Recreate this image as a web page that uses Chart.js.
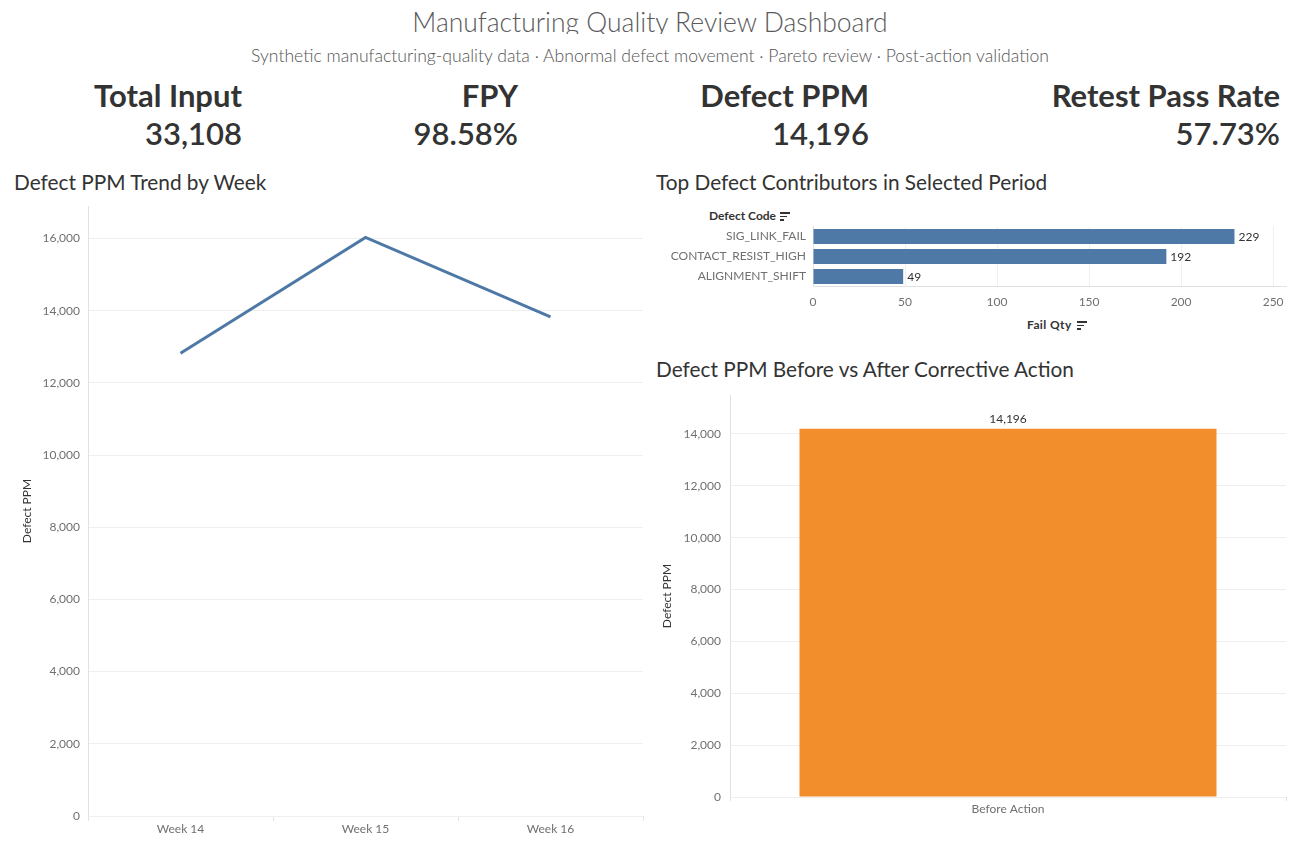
<!DOCTYPE html>
<html><head><meta charset="utf-8">
<script src="https://cdn.jsdelivr.net/npm/chart.js@4.4.1/dist/chart.umd.min.js"></script>
<style>
html,body{margin:0;padding:0;background:#fff;}
body{width:1300px;height:847px;position:relative;overflow:hidden;font-family:Lato,"Open Sans",sans-serif;}
.abs{position:absolute;white-space:nowrap;line-height:1.2;}
#title{left:0;width:1300px;top:7px;text-align:center;font-size:26.5px;font-weight:300;color:#5a5a5a;height:27px;overflow:hidden;}
#subtitle{left:0;width:1300px;top:45px;text-align:center;font-size:17.6px;font-weight:300;color:#555;}
.kpi{font-size:31px;font-weight:700;color:#333;text-align:right;}
.ctitle{font-size:20.8px;font-weight:400;color:#333;top:170px;}
.hdr{font-size:12px;font-weight:700;color:#333;}
.sorticon{position:absolute;width:10px;height:9px;}
.sorticon i{position:absolute;left:0;height:1.5px;background:#333;}
canvas{position:absolute;}
</style></head>
<body>
<div id="title" class="abs">Manufacturing Quality Review Dashboard</div>
<div id="subtitle" class="abs">Synthetic manufacturing-quality data · Abnormal defect movement · Pareto review · Post-action validation</div>
<div id="kpis"></div>
<div class="abs ctitle" style="left:14px;top:170px;">Defect PPM Trend by Week</div>
<div class="abs ctitle" style="left:656px;top:170px;">Top Defect Contributors in Selected Period</div>
<div class="abs ctitle" style="left:656px;top:357px;">Defect PPM Before vs After Corrective Action</div>
<div class="abs hdr" style="left:709px;top:209px;">Defect Code</div>
<div class="sorticon" style="left:780px;top:212px;"><i style="top:0;width:10px"></i><i style="top:3.5px;width:7px"></i><i style="top:7px;width:4px"></i></div>
<div class="abs hdr" style="left:1027px;top:318px;letter-spacing:0.4px;">Fail Qty</div>
<div class="sorticon" style="left:1077px;top:321px;"><i style="top:0;width:10px"></i><i style="top:3.5px;width:7px"></i><i style="top:7px;width:4px"></i></div>
<canvas id="c1" width="650" height="650" style="left:0;top:195px;"></canvas>
<canvas id="c2" width="650" height="140" style="left:650px;top:200px;"></canvas>
<canvas id="c3" width="650" height="460" style="left:650px;top:385px;"></canvas>
<script>
// ---- data ----
const kpiLabels = ['Total Input', 'FPY', 'Defect PPM', 'Retest Pass Rate'];
const kpiValues = ['33,108', '98.58%', '14,196', '57.73%'];
const weekLabels = ['Week 14', 'Week 15', 'Week 16'];
const weeklyDefectPPM = [12820, 16030, 13830];
const trendTicks = [0, 2000, 4000, 6000, 8000, 10000, 12000, 14000, 16000];
const defectCodes = ['SIG_LINK_FAIL', 'CONTACT_RESIST_HIGH', 'ALIGNMENT_SHIFT'];
const failQty = [229, 192, 49];
const failQtyTicks = [0, 50, 100, 150, 200, 250];
const actionPhases = ['Before Action'];
const phaseDefectPPM = [14196];
const phaseTicks = [0, 2000, 4000, 6000, 8000, 10000, 12000, 14000];

// ---- KPI tiles ----
const kpiRight = [242, 518, 869, 1280];
const kpiBox = document.getElementById('kpis');
kpiLabels.forEach((lab, i) => {
  const a = document.createElement('div');
  a.className = 'abs kpi'; a.textContent = lab;
  a.style.right = (1300 - kpiRight[i]) + 'px'; a.style.top = '77px';
  const b = document.createElement('div');
  b.className = 'abs kpi'; b.style.fontWeight = '600'; b.textContent = kpiValues[i];
  b.style.right = (1300 - kpiRight[i]) + 'px'; b.style.top = '115px';
  kpiBox.appendChild(a); kpiBox.appendChild(b);
});

const FONT = 'Lato, "Open Sans", sans-serif';
const TICK = '#707070';
const GRID = '#efefef';
const AXIS = '#e2e2e2';
const fmt = v => Number(v).toLocaleString('en-US');
const useTicks = arr => s => { s.ticks = arr.map(v => ({ value: v })); };
const fixW = w => s => { s.width = w; s.paddingTop = 0; s.paddingBottom = 0; };
const fixH = h => s => { s.height = h; s.paddingLeft = 0; s.paddingRight = 0; };

const valueLabels = {
  id: 'valueLabels',
  afterDatasetsDraw(chart, args, opts) {
    if (!opts || !opts.show) return;
    const ctx = chart.ctx;
    chart.data.datasets.forEach((ds, i) => {
      chart.getDatasetMeta(i).data.forEach((el, j) => {
        const txt = fmt(ds.data[j]);
        ctx.save();
        ctx.font = '12px ' + FONT;
        ctx.fillStyle = '#333';
        if (opts.horizontal) {
          ctx.textAlign = 'left'; ctx.textBaseline = 'middle';
          ctx.fillText(txt, el.x + 4, el.y + 1);
        } else {
          ctx.textAlign = 'center'; ctx.textBaseline = 'bottom';
          ctx.fillText(txt, el.x, el.y - 4);
        }
        ctx.restore();
      });
    });
  }
};
Chart.register(valueLabels);

// ---- Chart 1: line ----
new Chart(document.getElementById('c1'), {
  type: 'line',
  data: { labels: weekLabels, datasets: [{ data: weeklyDefectPPM, borderColor: '#4e79a7', borderWidth: 3, pointRadius: 0, tension: 0, fill: false }] },
  options: {
    responsive: false, animation: false,
    layout: { padding: { top: 11, right: 7, left: 0, bottom: 0 } },
    plugins: { legend: { display: false }, tooltip: { enabled: false } },
    scales: {
      x: {
        offset: true,
        grid: { offset: true, drawOnChartArea: false, drawTicks: true, tickLength: 5, color: AXIS },
        border: { display: false },
        ticks: { color: TICK, font: { family: FONT, size: 12 }, padding: 1 },
        afterFit: fixH(29)
      },
      y: {
        min: 0, max: 16900,
        afterBuildTicks: useTicks(trendTicks),
        ticks: { color: TICK, font: { family: FONT, size: 12 }, padding: 8, callback: v => fmt(v) },
        grid: { color: GRID, drawTicks: false },
        border: { display: true, color: AXIS },
        title: { display: true, text: 'Defect PPM', color: '#333', font: { family: FONT, size: 12 }, padding: { top: 20, bottom: 0 } },
        afterFit: fixW(88)
      }
    }
  }
});

// ---- Chart 2: horizontal bar ----
new Chart(document.getElementById('c2'), {
  type: 'bar',
  data: { labels: defectCodes, datasets: [{ data: failQty, backgroundColor: '#4e79a7', categoryPercentage: 1, barPercentage: 0.75 }] },
  options: {
    indexAxis: 'y', responsive: false, animation: false,
    layout: { padding: { top: 26.5, right: 14, left: 0, bottom: 0 } },
    plugins: { legend: { display: false }, tooltip: { enabled: false }, valueLabels: { show: true, horizontal: true } },
    scales: {
      x: {
        min: 0, max: 257,
        afterBuildTicks: useTicks(failQtyTicks),
        ticks: { color: TICK, font: { family: FONT, size: 12 }, padding: 8 },
        grid: { color: GRID, drawTicks: false },
        border: { display: true, color: AXIS },
        afterFit: fixH(53.5)
      },
      y: {
        grid: { display: false, drawTicks: false },
        border: { display: true, color: AXIS },
        ticks: { color: TICK, font: { family: FONT, size: 12 }, padding: 7 },
        afterFit: fixW(163)
      }
    }
  }
});

// ---- Chart 3: vertical bar ----
new Chart(document.getElementById('c3'), {
  type: 'bar',
  data: { labels: actionPhases, datasets: [{ data: phaseDefectPPM, backgroundColor: '#f28e2b', categoryPercentage: 1, barPercentage: 0.75 }] },
  options: {
    responsive: false, animation: false,
    layout: { padding: { top: 10, right: 14, left: 0, bottom: 0 } },
    plugins: { legend: { display: false }, tooltip: { enabled: false }, valueLabels: { show: true, horizontal: false } },
    scales: {
      x: {
        grid: { offset: true, drawOnChartArea: false, drawTicks: true, tickLength: 4, color: AXIS },
        border: { display: false },
        ticks: { color: TICK, font: { family: FONT, size: 12 }, padding: 1 },
        afterFit: fixH(48)
      },
      y: {
        min: 0, max: 15500,
        afterBuildTicks: useTicks(phaseTicks),
        ticks: { color: TICK, font: { family: FONT, size: 12 }, padding: 9, callback: v => fmt(v) },
        grid: { color: GRID, drawTicks: false },
        border: { display: true, color: AXIS },
        title: { display: true, text: 'Defect PPM', color: '#333', font: { family: FONT, size: 12 }, padding: { top: 10, bottom: 0 } },
        afterFit: fixW(80)
      }
    }
  }
});
</script>
</body></html>
